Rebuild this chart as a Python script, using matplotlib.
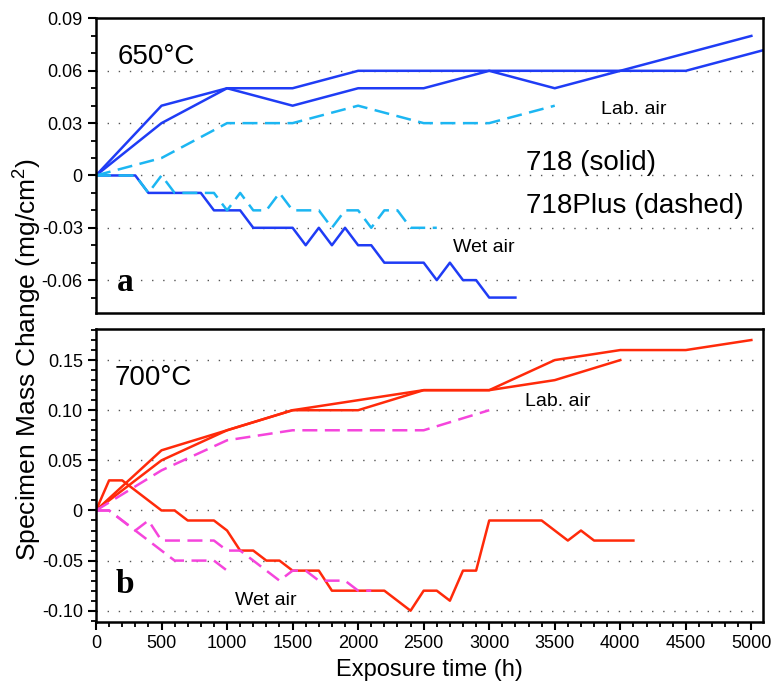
import numpy as np
import matplotlib
matplotlib.use('Agg')
import matplotlib.pyplot as plt
from matplotlib.ticker import MultipleLocator

plt.rcParams['font.family'] = ['Liberation Sans', 'DejaVu Sans']
plt.rcParams['mathtext.default'] = 'regular'

# 650C, lab air, alloy 718 (two specimens, solid)
h650_lab_718a = [0, 500, 1000, 1500, 2000, 2500, 3000, 3500, 4000, 4500, 5500]
m650_lab_718a = [0, 0.04, 0.05, 0.05, 0.06, 0.06, 0.06, 0.06, 0.06, 0.06, 0.08]
h650_lab_718b = [0, 500, 1000, 1500, 2000, 2500, 3000, 3500, 4000, 4500, 5000]
m650_lab_718b = [0, 0.03, 0.05, 0.04, 0.05, 0.05, 0.06, 0.05, 0.06, 0.07, 0.08]
# 650C, lab air, 718Plus (dashed)
h650_lab_plus = [0, 500, 1000, 1500, 2000, 2500, 3000, 3500]
m650_lab_plus = [0, 0.01, 0.03, 0.03, 0.04, 0.03, 0.03, 0.04]
# 650C, wet air
h650_wet_718 = [0, 300, 400, 800, 900, 1100, 1200, 1500, 1600, 1700, 1800, 1900, 2000,
                2100, 2200, 2500, 2600, 2700, 2800, 2900, 3000, 3200]
m650_wet_718 = [0, 0, -0.01, -0.01, -0.02, -0.02, -0.03, -0.03, -0.04, -0.03, -0.04, -0.03, -0.04,
                -0.04, -0.05, -0.05, -0.06, -0.05, -0.06, -0.06, -0.07, -0.07]
h650_wet_plus = [0, 300, 400, 500, 600, 900, 1000, 1100, 1200, 1300, 1400, 1500, 1700,
                 1800, 1900, 2000, 2100, 2200, 2300, 2400, 2600]
m650_wet_plus = [0, 0, -0.01, 0, -0.01, -0.01, -0.02, -0.01, -0.02, -0.02, -0.01, -0.02, -0.02,
                 -0.03, -0.02, -0.02, -0.03, -0.02, -0.02, -0.03, -0.03]

# 700C, lab air
h700_lab_718a = [0, 500, 1000, 1500, 2000, 2500, 3000, 3500, 4000, 4500, 5000]
m700_lab_718a = [0, 0.06, 0.08, 0.10, 0.11, 0.12, 0.12, 0.15, 0.16, 0.16, 0.17]
h700_lab_718b = [0, 500, 1000, 1500, 2000, 2500, 3000, 3500, 4000]
m700_lab_718b = [0, 0.05, 0.08, 0.10, 0.10, 0.12, 0.12, 0.13, 0.15]
h700_lab_plus = [0, 500, 1000, 1500, 2500, 3000]
m700_lab_plus = [0, 0.04, 0.07, 0.08, 0.08, 0.10]
# 700C, wet air
h700_wet_718 = [0, 100, 200, 500, 600, 700, 900, 1000, 1100, 1200, 1300, 1400, 1500, 1700,
                1800, 2200, 2400, 2500, 2600, 2700, 2800, 2900, 3000, 3400, 3600, 3700, 3800, 4100]
m700_wet_718 = [0, 0.03, 0.03, 0, 0, -0.01, -0.01, -0.02, -0.04, -0.04, -0.05, -0.05, -0.06, -0.06,
                -0.08, -0.08, -0.10, -0.08, -0.08, -0.09, -0.06, -0.06, -0.01, -0.01, -0.03, -0.02, -0.03, -0.03]
h700_wet_plus_a = [0, 100, 300, 400, 500, 900, 1000, 1100, 1400, 1500, 1600, 1700, 1900, 2000, 2100]
m700_wet_plus_a = [0, 0, -0.02, -0.01, -0.03, -0.03, -0.04, -0.04, -0.07, -0.06, -0.06, -0.07, -0.07, -0.08, -0.08]
h700_wet_plus_b = [0, 100, 300, 500, 600, 900, 1000]
m700_wet_plus_b = [0, 0, -0.02, -0.04, -0.05, -0.05, -0.06]

blue = '#1f3cf5'
cyan = '#1cb6f2'
red = '#ff2a0a'
magenta = '#f545dc'
dash = (0, (6, 3))
lw = 1.8

fig = plt.figure(figsize=(7.74, 6.84), dpi=100)
ax1 = fig.add_axes([0.124, 0.542, 0.862, 0.431])
ax2 = fig.add_axes([0.124, 0.091, 0.862, 0.428])

# panel a
ax1.plot(h650_lab_718a, m650_lab_718a, color=blue, lw=lw)
ax1.plot(h650_lab_718b, m650_lab_718b, color=blue, lw=lw)
ax1.plot(h650_wet_718, m650_wet_718, color=blue, lw=lw)
ax1.plot(h650_lab_plus, m650_lab_plus, color=cyan, lw=lw, linestyle=dash)
ax1.plot(h650_wet_plus, m650_wet_plus, color=cyan, lw=lw, linestyle=dash)

# panel b
ax2.plot(h700_lab_718a, m700_lab_718a, color=red, lw=lw)
ax2.plot(h700_lab_718b, m700_lab_718b, color=red, lw=lw)
ax2.plot(h700_wet_718, m700_wet_718, color=red, lw=lw)
ax2.plot(h700_lab_plus, m700_lab_plus, color=magenta, lw=lw, linestyle=dash)
ax2.plot(h700_wet_plus_a, m700_wet_plus_a, color=magenta, lw=lw, linestyle=dash)
ax2.plot(h700_wet_plus_b, m700_wet_plus_b, color=magenta, lw=lw, linestyle=dash)

ax1.set_ylim(-0.079, 0.09)
ax2.set_ylim(-0.111, 0.181)
ax1.set_yticks([-0.06, -0.03, 0, 0.03, 0.06, 0.09])
ax1.set_yticklabels(['-0.06', '-0.03', '0', '0.03', '0.06', '0.09'])
ax2.set_yticks([-0.10, -0.05, 0, 0.05, 0.10, 0.15])
ax2.set_yticklabels(['-0.10', '-0.05', '0', '0.05', '0.10', '0.15'])
ax1.yaxis.set_minor_locator(MultipleLocator(0.01))
ax2.yaxis.set_minor_locator(MultipleLocator(0.01))

for ax in (ax1, ax2):
    ax.set_xlim(0, 5090)
    for sp in ax.spines.values():
        sp.set_linewidth(1.8)
    ax.tick_params(axis='y', which='major', direction='out', length=6, width=1.5, labelsize=13)
    ax.tick_params(axis='y', which='minor', direction='out', length=3.5, width=1.3)
    for y in ax.get_yticks():
        if ax.get_ylim()[0] < y < ax.get_ylim()[1]:
            ax.axhline(y, color='#555555', lw=1.0, linestyle=(0, (1, 7)), zorder=0)

ax1.set_xticks([])
ax2.set_xticks(np.arange(0, 5001, 500))
ax2.xaxis.set_minor_locator(MultipleLocator(100))
ax2.tick_params(axis='x', which='major', direction='out', length=6, width=1.5, labelsize=13)
ax2.tick_params(axis='x', which='minor', direction='out', length=3.5, width=1.3)

# annotations
ax1.text(165, 0.068, '650°C', fontsize=20, va='center')
ax1.text(3850, 0.038, 'Lab. air', fontsize=14, va='center')
ax1.text(3280, 0.007, '718 (solid)', fontsize=20, va='center')
ax1.text(3280, -0.0175, '718Plus (dashed)', fontsize=20, va='center')
ax1.text(2720, -0.0415, 'Wet air', fontsize=14, va='center')
ax1.text(160, -0.0615, 'a', fontsize=24, fontweight='bold', family='Liberation Serif', va='center')

ax2.text(145, 0.132, '700°C', fontsize=20, va='center')
ax2.text(3270, 0.109, 'Lab. air', fontsize=14, va='center')
ax2.text(1060, -0.090, 'Wet air', fontsize=14, va='center')
ax2.text(150, -0.0735, 'b', fontsize=24, fontweight='bold', family='Liberation Serif', va='center')

fig.text(0.036, 0.474, 'Specimen Mass Change (mg/cm$^2$)', rotation=90,
         fontsize=19, ha='center', va='center')
ax2.set_xlabel('Exposure time (h)', fontsize=17, labelpad=5)

fig.savefig('out.png', dpi=100)
